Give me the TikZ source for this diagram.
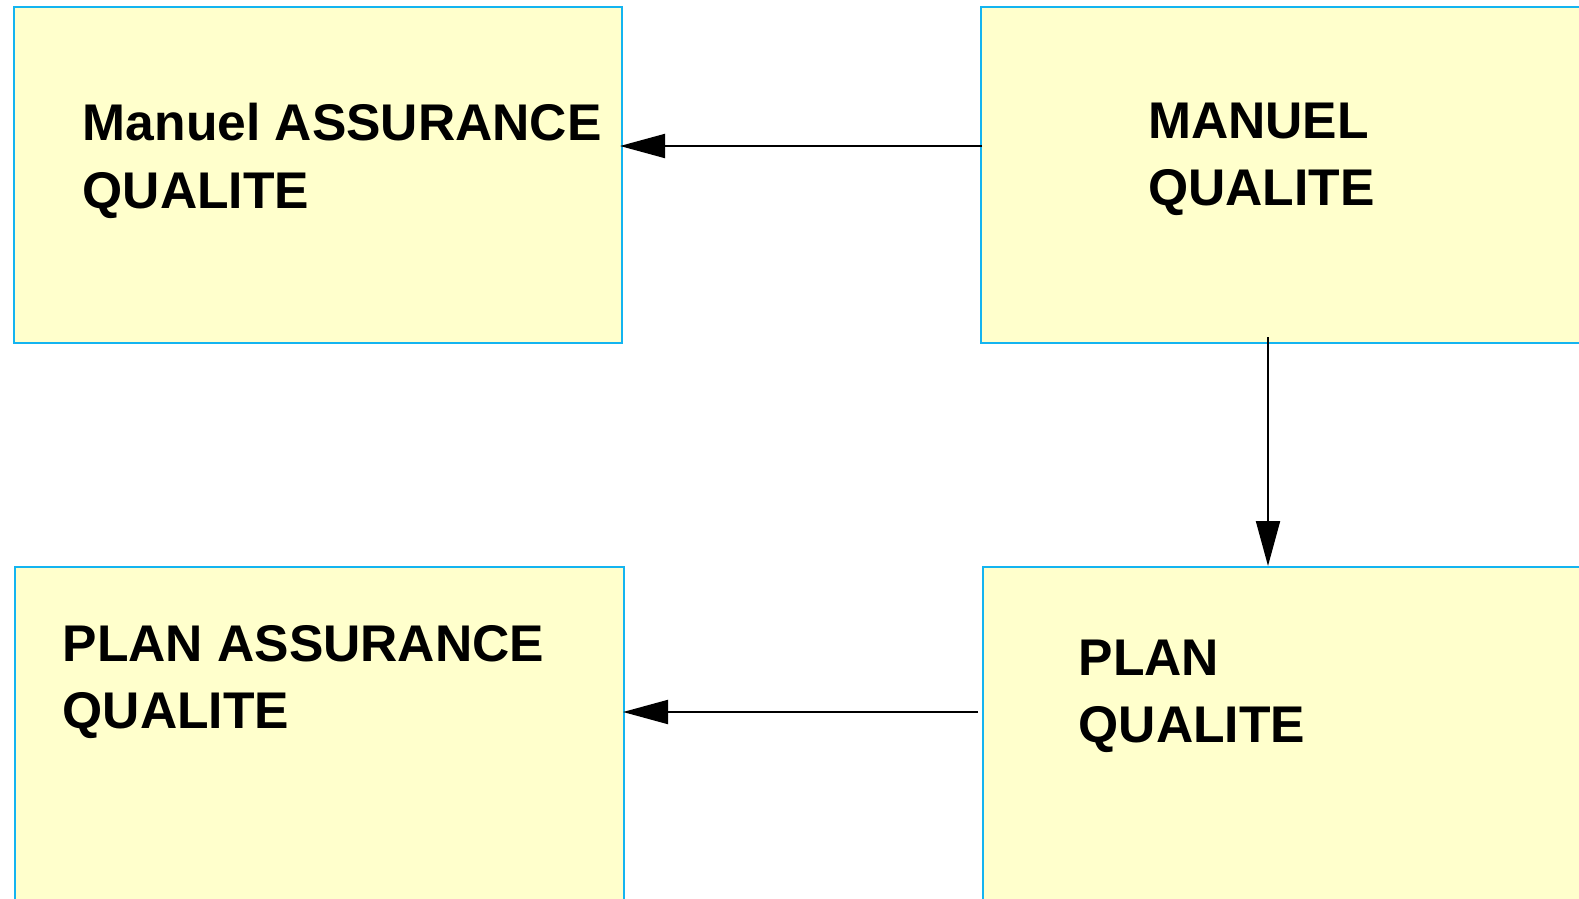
\documentclass[tikz,border=0pt]{standalone}
\usepackage{fontspec}
\setmainfont{Liberation Sans}
\usetikzlibrary{arrows.meta}
\definecolor{boxfill}{HTML}{FFFFCC}
\definecolor{boxline}{HTML}{14B4F0}
\begin{document}
\begin{tikzpicture}[x=1pt,y=-1pt,
  docbox/.style={draw=boxline, fill=boxfill, line width=2pt, rectangle, anchor=north west, inner sep=0pt},
  lbl/.style={anchor=base west, align=left, inner sep=0pt, font=\fontsize{51.6}{67.5}\selectfont\bfseries},
  arr/.style={line width=2pt, -{Triangle[length=45pt,width=24pt]}}]
\useasboundingbox (0,0) rectangle (1579,899);
\clip (0,0) rectangle (1579,899);
\node[docbox, minimum width=608.5pt, minimum height=335.5pt] (b1) at (12.5,6.5) {};
\node[docbox, minimum width=700pt, minimum height=335.5pt] (b2) at (980,6.5) {};
\node[docbox, minimum width=609pt, minimum height=400pt] (b3) at (14,566) {};
\node[docbox, minimum width=700pt, minimum height=400pt] (b4) at (982,566) {};
\node[lbl] (t1) at (82.6,208) {Manuel ASSURANCE\\QUALITE};
\node[lbl] (t2) at (1148,205.5) {MANUEL\\QUALITE};
\node[lbl] (t3) at (62.4,728.5) {PLAN ASSURANCE\\QUALITE};
\node[lbl] (t4) at (1078.5,742.5) {PLAN\\QUALITE};
\draw[arr] ([xshift=2pt]b2.west |- 0,146) -- ([xshift=-3pt]b1.east |- 0,146);
\draw[arr] ([xshift=-4pt]b4.west |- 0,712) -- ([xshift=-2pt]b3.east |- 0,712);
\draw[arr] (1268,337) -- (b4.north -| 1268,0);
\end{tikzpicture}
\end{document}
